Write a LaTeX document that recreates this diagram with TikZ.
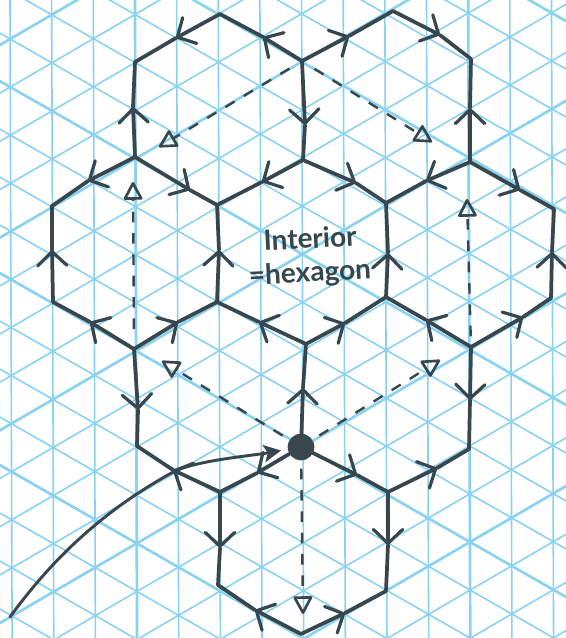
\documentclass[tikz,border=0pt]{standalone}
\usepackage{fontspec}
\setmainfont{Lato}
\usetikzlibrary{arrows.meta}
\definecolor{gridblue}{HTML}{8AD2F2}
\definecolor{ink}{HTML}{37474D}
\tikzset{
  gridthin/.style={draw=gridblue,line width=1.2pt},
  gridthick/.style={draw=gridblue,line width=2pt},
  hand/.style={draw=ink,line width=2.8pt,line cap=round,line join=round},
  barbed/.style={-{Straight Barb[length=10.5pt,width=22pt,line width=2.4pt,round]}},
  dashline/.style={draw=ink,line width=1.8pt,dash pattern=on 8pt off 8pt,
    -{Triangle[open,length=14.5pt,width=15pt,line width=2pt,round]}},
  pointer/.style={draw=ink,line width=2.2pt,line cap=round,-{Stealth[length=13pt,width=13pt,inset=3pt]}},
  dotnode/.style={circle,fill=ink,inner sep=0pt,minimum size=20pt},
  label/.style={text=ink,font=\fontsize{21pt}{23pt}\selectfont\bfseries,rotate=3,inner sep=0pt},
}
% directed hexagon edge from #1 to #2, arrowhead at the point #3 on the way
\newcommand{\hedge}[3]{\draw[hand] (#1) edge[barbed] (#3) (#3) -- (#2);}
\begin{document}
\begin{tikzpicture}[x=.75pt,y=-.75pt]
\useasboundingbox (0,0) rectangle (566,638);
\fill[white] (0,0) rectangle (566,638);
\clip (0,0) rectangle (566,638);
% isometric paper
\begin{scope}[shift={(10.05,14.96)},x={(31.2375pt,0.125pt)},y={(0.0595pt,-18.03pt)}]
  \foreach \i in {-1,...,14}{
    \pgfmathtruncatemacro{\m}{mod(\i+77,8)}
    \ifnum\m=0 \draw[gridthick] (\i,-2)--(\i,30);\else \draw[gridthin] (\i,-2)--(\i,30);\fi
  }
  \foreach \c in {-15,-13,...,45}{
    \pgfmathtruncatemacro{\m}{mod(\c+79,8)}
    \ifnum\m=0 \draw[gridthick] (-2,\c+2)--(15,\c-15);\else \draw[gridthin] (-2,\c+2)--(15,\c-15);\fi
  }
  \foreach \d in {-21,-19,...,31}{
    \pgfmathtruncatemacro{\m}{mod(\d+77,8)}
    \ifnum\m=0 \draw[gridthick] (-2,\d-2)--(15,\d+15);\else \draw[gridthin] (-2,\d-2)--(15,\d+15);\fi
  }
\end{scope}
% hexagon vertices
\coordinate (A1) at (135,62);
\coordinate (A2) at (220,14);
\coordinate (A3) at (302,61);
\coordinate (A4) at (393,11);
\coordinate (A5) at (471,59);
\coordinate (B1) at (135,157);
\coordinate (B2) at (303,160);
\coordinate (B3) at (470,162);
\coordinate (C0) at (52,206);
\coordinate (C1) at (217,205);
\coordinate (C2) at (386,203);
\coordinate (C3) at (554,209);
\coordinate (D0) at (53,302);
\coordinate (D1) at (217,302);
\coordinate (D2) at (386,297);
\coordinate (D3) at (551,298);
\coordinate (E1) at (134,349);
\coordinate (E2) at (306,344);
\coordinate (E3) at (471,347);
\coordinate (F1) at (137,446);
\node[dotnode] (F2) at (301,447) {};
\coordinate (F3) at (469,449);
\coordinate (G1) at (220,492);
\coordinate (G2) at (388,492);
\coordinate (H1) at (218,585);
\coordinate (H2) at (386,591);
\coordinate (K) at (301,634);
\coordinate (L) at (10,617);
% dashed connectors
\coordinate (T1) at (133,182);
\coordinate (T2) at (159,147);
\coordinate (T3) at (432,142);
\coordinate (T4) at (467,199);
\coordinate (T5) at (440,360);
\coordinate (T6) at (162,361);
\coordinate (T7) at (303,614);
\draw[dashline,shorten <=15pt] (E1) -- (T1);
\draw[dashline,shorten <=11pt] (A3) -- (T2);
\draw[dashline,shorten <=11pt] (A3) -- (T3);
\draw[dashline,shorten <=8pt] (E3) -- (T4);
\draw[dashline,shorten <=6pt] (F2) -- (T5);
\draw[dashline,shorten <=6pt] (F2) -- (T6);
\draw[dashline,shorten <=6pt] (F2) -- (T7);
% directed edges
\hedge{A2}{A1}{176,38}
\hedge{A3}{A2}{263,37}
\hedge{B1}{A1}{133,107}
\hedge{B1}{C0}{88,181}
\hedge{B1}{C1}{190,190}
\hedge{B2}{C1}{262,182}
\hedge{D0}{C0}{52,250}
\hedge{D1}{C1}{219,250}
\hedge{A3}{B2}{305,125}
\hedge{A3}{A4}{349,36}
\hedge{A4}{A5}{440,35}
\hedge{B3}{A5}{470,108}
\hedge{B2}{C2}{356,183}
\hedge{B3}{C2}{426,181}
\hedge{B3}{C3}{520,190}
\hedge{D3}{C3}{552,252}
\hedge{D2}{C2}{388,253}
\hedge{E3}{D2}{426,320}
\hedge{E3}{D3}{523,317}
\hedge{E2}{D1}{259,322}
\hedge{E1}{D1}{178,322}
\hedge{E1}{D0}{90,322}
\hedge{E2}{D2}{345,323}
\hedge{E1}{F1}{138,410}
\hedge{G1}{F1}{173,470}
\hedge{F2}{G1}{257,473}
\hedge{G1}{H1}{220,548}
\hedge{K}{H1}{255,610}
\hedge{K}{H2}{345,613}
\hedge{G2}{H2}{388,545}
\hedge{F2}{G2}{357,475}
\hedge{G2}{F3}{437,468}
\hedge{E3}{F3}{470,400}
\hedge{F2}{E2}{303,388}
% pointer to the marked vertex
\draw[pointer,shorten >=5pt] (L) .. controls (50,562) and (100,512) .. (175,471)
  .. controls (200,460) and (250,456) .. (F2);
% labels
\node[label] (t1) at (310,238) {Interior};
\node[label] (t2) at (310,274) {=hexagon};
\end{tikzpicture}
\end{document}
